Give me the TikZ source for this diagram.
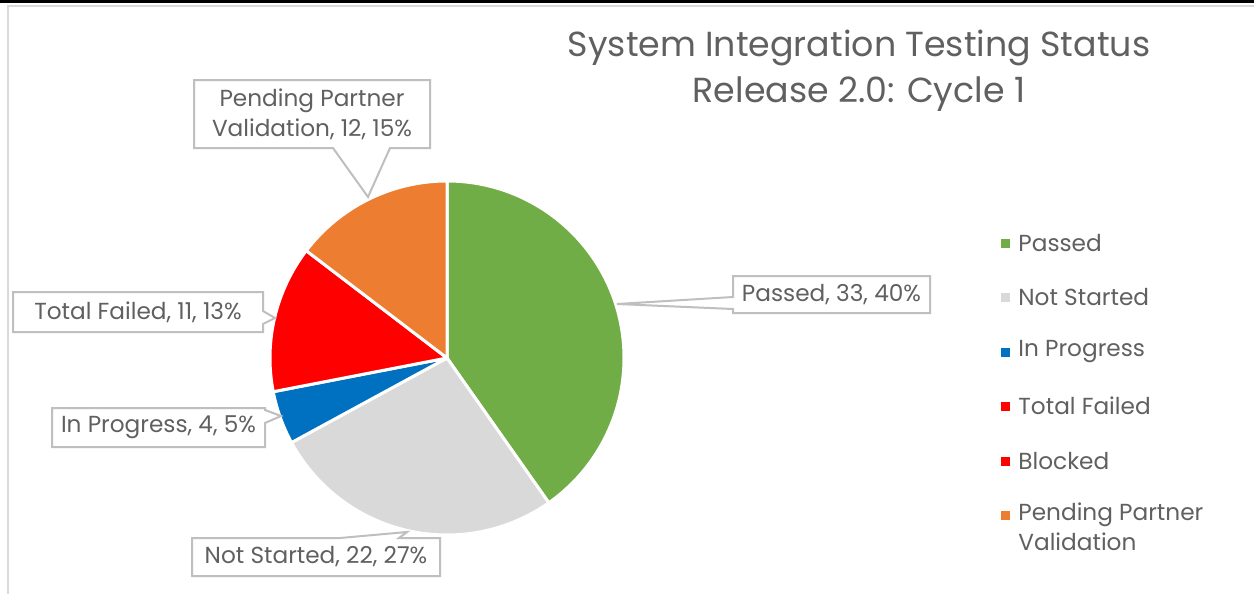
\documentclass[tikz,border=0pt]{standalone}
\usepackage{fontspec}
\setmainfont{Poppins}
\usetikzlibrary{calc}
\definecolor{cpass}{HTML}{70AD47}
\definecolor{cnots}{HTML}{D9D9D9}
\definecolor{cprog}{HTML}{0070C0}
\definecolor{cfail}{HTML}{FF0000}
\definecolor{cpend}{HTML}{ED7D31}
\definecolor{ctext}{HTML}{606060}
\definecolor{cbox}{HTML}{BFBFBF}
\definecolor{cframe}{HTML}{D9D9D9}
\begin{document}
\begin{tikzpicture}[x=0.5pt,y=-0.5pt,
  slice/.style={draw=white,line width=1.5pt,line join=round},
  callout/.style={draw=cbox,line width=1pt,fill=white,line join=miter},
  lbltext/.style={text=ctext,font=\fontsize{11.6}{15}\selectfont,inner sep=0pt,align=center},
  legtext/.style={text=ctext,font=\fontsize{11.6}{15}\selectfont,inner sep=0pt,anchor=west,align=left},
  legsq/.style={minimum size=4.5pt,inner sep=0pt},
  ttl/.style={text=ctext,font=\fontsize{17.4}{23}\selectfont,inner sep=0pt,align=center}]
\useasboundingbox (0,0) rectangle (1254,594);
\fill[white] (0,0) rectangle (1254,594);
% frame
\fill[black] (0,0) rectangle (1254,3);
\draw[cframe,line width=1pt] (8,594) -- (8,5.5) -- (1254,5.5);
% title
\node[ttl] (title) at (859,71) {System Integration Testing Status\\Release 2.0: Cycle 1};
% pie
\begin{scope}[shift={(447,358)},x=0.5pt,y=0.5pt]
\coordinate (pc) at (0,0);
\filldraw[slice,fill=cpass] (0,0) -- (90:177) arc[start angle=90,end angle=-54.88,radius=177] -- cycle;
\filldraw[slice,fill=cnots] (0,0) -- (-54.88:177) arc[start angle=-54.88,end angle=-151.46,radius=177] -- cycle;
\filldraw[slice,fill=cprog] (0,0) -- (-151.46:177) arc[start angle=-151.46,end angle=-169.02,radius=177] -- cycle;
\filldraw[slice,fill=cfail] (0,0) -- (-169.02:177) arc[start angle=-169.02,end angle=-217.32,radius=177] -- cycle;
\filldraw[slice,fill=cpend] (0,0) -- (-217.32:177) arc[start angle=-217.32,end angle=-270,radius=177] -- cycle;
\end{scope}
% callout tips
\coordinate (tpass) at (617,304);
\coordinate (tpend) at (368,197);
\coordinate (tfail) at (275,318);
\coordinate (tprog) at (281,416);
\coordinate (tnots) at (407,532);
% callouts
\draw[callout] (733,297) -- (tpass) -- (733,309) -- (733,313) -- (930,313) -- (930,276) -- (733,276) -- cycle;
\node[lbltext] (lpass) at (831.5,294.5) {Passed, 33, 40\%};
\draw[callout] (333,148) -- (tpend) -- (390,148) -- (430,148) -- (430,80) -- (194,80) -- (194,148) -- cycle;
\node[lbltext] (lpend) at (312,114) {Pending Partner\\Validation, 12, 15\%};
\draw[callout] (263,311) -- (tfail) -- (263,324) -- (263,332) -- (13,332) -- (13,292) -- (263,292) -- cycle;
\node[lbltext] (lfail) at (138,312) {Total Failed, 11, 13\%};
\draw[callout] (265,410) -- (tprog) -- (265,423) -- (265,447) -- (52,447) -- (52,408) -- (265,408) -- cycle;
\node[lbltext] (lprog) at (158.5,427.5) {In Progress, 4, 5\%};
\draw[callout] (340,538) -- (tnots) -- (399,538) -- (440,538) -- (440,576) -- (192,576) -- (192,538) -- cycle;
\node[lbltext] (lnots) at (316,557) {Not Started, 22, 27\%};
% legend
\node[legsq,fill=cpass] (sq1) at (1005.5,243) {};
\node[legtext] (lg1) at (1018,243) {Passed};
\node[legsq,fill=cnots] (sq2) at (1005.5,297) {};
\node[legtext] (lg2) at (1018,297) {Not Started};
\node[legsq,fill=cprog] (sq3) at (1005.5,352) {};
\node[legtext] (lg3) at (1018,352) {In Progress};
\node[legsq,fill=cfail] (sq4) at (1005.5,406) {};
\node[legtext] (lg4) at (1018,406) {Total Failed};
\node[legsq,fill=cfail] (sq5) at (1005.5,461) {};
\node[legtext] (lg5) at (1018,461) {Blocked};
\node[legsq,fill=cpend] (sq6) at (1005.5,515) {};
\node[legtext,anchor=north west] (lg6) at (1018,502) {Pending Partner\\Validation};
\end{tikzpicture}
\end{document}
